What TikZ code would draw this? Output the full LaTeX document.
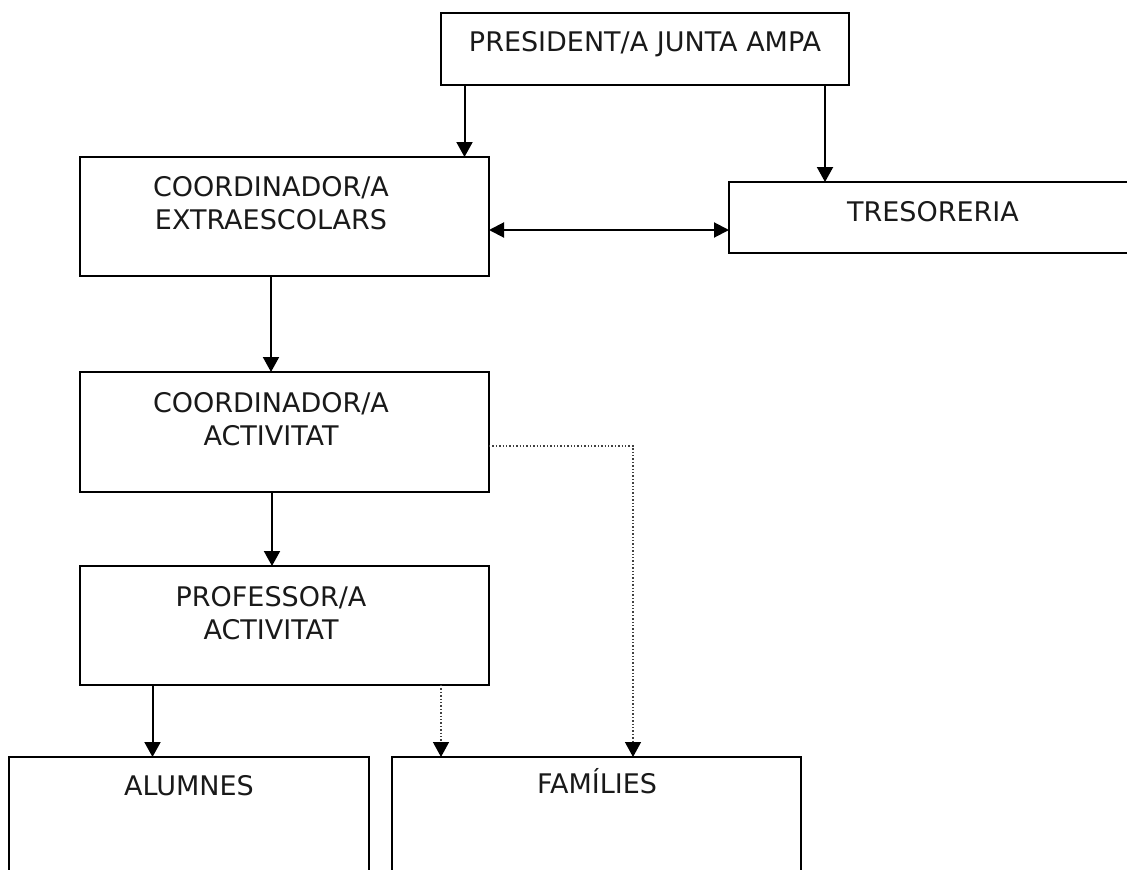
\documentclass[tikz,border=0pt]{standalone}
\usepackage{fontspec}
\setmainfont{DejaVu Sans}
\usetikzlibrary{arrows.meta}
\begin{document}
\begin{tikzpicture}[x=1pt,y=-1pt,
  box/.style={draw, line width=2pt, rectangle, anchor=north west, inner sep=0pt, outer sep=0pt},
  lbl/.style={font=\fontsize{27}{33}\selectfont, inner sep=0pt, align=center, text=black!90},
  arr/.style={line width=2pt, -{Triangle[length=15pt,width=16pt]}},
  dbl/.style={line width=2pt, {Triangle[length=15pt,width=15pt]}-{Triangle[length=15pt,width=15pt]}},
  dotarr/.style={line width=1.4pt, dotted, draw=black!75, -{Triangle[length=15pt,width=16pt,color=black]}}
]
\useasboundingbox (0,0) rectangle (1127,870);
\clip (0,0) rectangle (1127,870);

% boxes
\node[box, minimum width=408pt, minimum height=72pt] (pres) at (441,13) {};
\node[box, minimum width=409pt, minimum height=119pt] (ce) at (80,157) {};
\node[box, minimum width=420pt, minimum height=71pt] (tres) at (729,182) {};
\node[box, minimum width=409pt, minimum height=120pt] (ca) at (80,372) {};
\node[box, minimum width=409pt, minimum height=119pt] (prof) at (80,566) {};
\node[box, minimum width=360pt, minimum height=130pt] (alum) at (9,757) {};
\node[box, minimum width=409pt, minimum height=130pt] (fam) at (392,757) {};

% labels
\node[lbl, anchor=base] (tpres) at (645,51) {PRESIDENT/A JUNTA AMPA};
\node[lbl, anchor=north] (tce) at (271,176) {COORDINADOR/A\\EXTRAESCOLARS};
\node[lbl, anchor=base] (ttres) at (933,221) {TRESORERIA};
\node[lbl, anchor=north] (tca) at (271,392) {COORDINADOR/A\\ACTIVITAT};
\node[lbl, anchor=north] (tprof) at (271,586) {PROFESSOR/A\\ACTIVITAT};
\node[lbl, anchor=base] (talum) at (189,795) {ALUMNES};
\node[lbl, anchor=base] (tfam) at (597,793) {FAMÍLIES};

% connectors
\draw[arr] ([xshift=23.5pt]pres.south west) -- ([xshift=23.5pt]pres.south west |- ce.north);
\draw[arr] ([xshift=-24pt]pres.south east) -- ([xshift=-24pt]pres.south east |- tres.north);
\draw[dbl] ([yshift=-13.5pt]ce.east) -- ([yshift=-13.5pt]ce.east -| tres.west);
\draw[arr] ([xshift=191pt]ce.south west) -- ([xshift=191pt]ce.south west |- ca.north);
\draw[arr] ([xshift=192pt]ca.south west) -- ([xshift=192pt]ca.south west |- prof.north);
\draw[arr] ([xshift=72.5pt]prof.south west) -- ([xshift=72.5pt]prof.south west |- alum.north);
\draw[dotarr] ([xshift=361pt]prof.south west) -- ([xshift=361pt]prof.south west |- fam.north);
\draw[dotarr] ([yshift=-14pt]ca.east) -| ([xshift=241pt]fam.north west);
\end{tikzpicture}
\end{document}
